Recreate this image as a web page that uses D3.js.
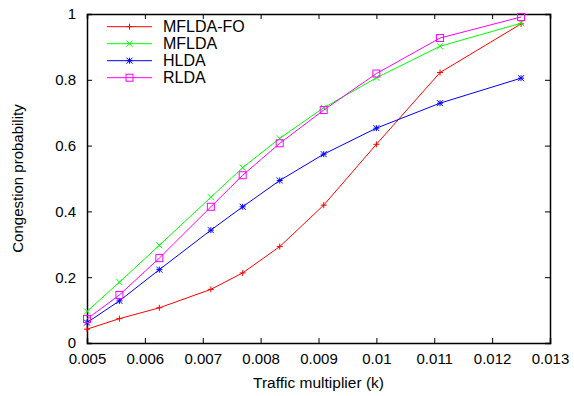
<!DOCTYPE html>
<html>
<head>
<meta charset="utf-8">
<script src="https://cdn.jsdelivr.net/npm/d3@7"></script>
<style>
  body { margin: 0; background: #fff; }
  svg { display: block; font-family: "Liberation Sans", Arial, sans-serif; }
</style>
</head>
<body>
<svg id="svg" width="574" height="396"></svg>
<script>
// traffic multiplier k (1/200 ... 1/80)
const kValues = [0.005, 0.00556, 0.00625, 0.00714, 0.00769, 0.00833, 0.00909, 0.01, 0.0111, 0.0125];

const mfldaFo = [0.042, 0.074, 0.107, 0.163, 0.213, 0.293, 0.419, 0.604, 0.822, 0.970];
const mflda   = [0.096, 0.185, 0.297, 0.443, 0.533, 0.622, 0.715, 0.806, 0.902, 0.972];
const hlda    = [0.062, 0.128, 0.223, 0.343, 0.414, 0.494, 0.574, 0.653, 0.729, 0.805];
const rlda    = [0.073, 0.146, 0.258, 0.414, 0.510, 0.607, 0.708, 0.819, 0.927, 0.991];

const xTicks = [0.005, 0.006, 0.007, 0.008, 0.009, 0.01, 0.011, 0.012, 0.013];
const yTicks = [0, 0.2, 0.4, 0.6, 0.8, 1];

const series = [
  { name: 'MFLDA-FO', values: mfldaFo, color: '#ff0000', mark: 'plus' },
  { name: 'MFLDA',    values: mflda,   color: '#00ff00', mark: 'cross' },
  { name: 'HLDA',     values: hlda,    color: '#0000ff', mark: 'star' },
  { name: 'RLDA',     values: rlda,    color: '#ff00ff', mark: 'square' }
];

const margin = { left: 87, right: 24, top: 14, bottom: 53 };
const width = 574, height = 396;

const svg = d3.select('#svg');

const x = d3.scaleLinear().domain([0.005, 0.013]).range([margin.left, width - margin.right]);
const y = d3.scaleLinear().domain([0, 1]).range([height - margin.bottom, margin.top]);

// inward ticks on all four sides, like gnuplot
const fmtX = d => String(+d.toFixed(3));
const fmtY = d => String(+d.toFixed(1));

svg.append('g')
  .attr('transform', 'translate(0,' + y(0) + ')')
  .call(d3.axisBottom(x).tickValues(xTicks).tickSize(-5).tickPadding(10).tickFormat(fmtX));
svg.append('g')
  .attr('transform', 'translate(0,' + y(1) + ')')
  .call(d3.axisTop(x).tickValues(xTicks).tickSize(-5).tickFormat(''));
svg.append('g')
  .attr('transform', 'translate(' + x(0.005) + ',0)')
  .call(d3.axisLeft(y).tickValues(yTicks).tickSize(-5).tickPadding(11).tickFormat(fmtY));
svg.append('g')
  .attr('transform', 'translate(' + x(0.013) + ',0)')
  .call(d3.axisRight(y).tickValues(yTicks).tickSize(-5).tickFormat(''));

svg.selectAll('.domain').attr('stroke', '#000').attr('stroke-width', 1.5);
svg.selectAll('.tick line').attr('stroke', '#000').attr('stroke-width', 1);
svg.selectAll('.tick text').attr('fill', '#000').style('font-size', '15px');

// axis titles
svg.append('text')
  .attr('x', (x(0.005) + x(0.013)) / 2)
  .attr('y', 388)
  .attr('text-anchor', 'middle')
  .style('font-size', '15.5px')
  .text('Traffic multiplier (k)');

svg.append('text')
  .attr('transform', 'translate(23,' + ((y(0) + y(1)) / 2) + ') rotate(-90)')
  .attr('text-anchor', 'middle')
  .style('font-size', '15px')
  .text('Congestion probability');

function drawMark(g, kind, cx, cy, color) {
  const s = 3;
  if (kind === 'plus' || kind === 'star') {
    g.append('path').attr('d', `M${cx - s},${cy}H${cx + s}M${cx},${cy - s}V${cy + s}`)
      .attr('stroke', color).attr('stroke-width', 1);
  }
  if (kind === 'cross' || kind === 'star') {
    g.append('path').attr('d', `M${cx - s},${cy - s}L${cx + s},${cy + s}M${cx - s},${cy + s}L${cx + s},${cy - s}`)
      .attr('stroke', color).attr('stroke-width', 1);
  }
  if (kind === 'square') {
    g.append('rect').attr('x', cx - 3.5).attr('y', cy - 3.5).attr('width', 7).attr('height', 7)
      .attr('fill', 'none').attr('stroke', color).attr('stroke-width', 1);
  }
}

const line = d3.line().x(d => x(d[0])).y(d => y(d[1]));

series.forEach(s => {
  const pts = kValues.map((k, i) => [k, s.values[i]]);
  const g = svg.append('g');
  g.append('path')
    .datum(pts)
    .attr('fill', 'none')
    .attr('stroke', s.color)
    .attr('stroke-width', 1)
    .attr('d', line);
  pts.forEach(p => drawMark(g, s.mark, x(p[0]), y(p[1]), s.color));
});

// legend
const legend = svg.append('g');
series.forEach((s, i) => {
  const ly = 26.7 + i * 17;
  legend.append('line')
    .attr('x1', 107).attr('x2', 152)
    .attr('y1', ly).attr('y2', ly)
    .attr('stroke', s.color).attr('stroke-width', 1);
  drawMark(legend, s.mark, 129.5, ly, s.color);
  legend.append('text')
    .attr('x', 163).attr('y', ly + 5.5)
    .style('font-size', '16px')
    .text(s.name);
});
</script>
</body>
</html>
